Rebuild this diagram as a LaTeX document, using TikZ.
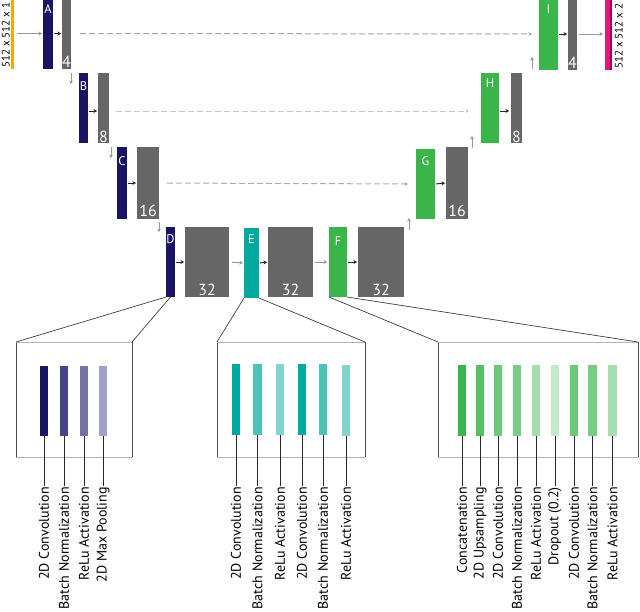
\documentclass[tikz,border=0pt]{standalone}
\usepackage{fontspec}
\setmainfont{PT Sans}
\usetikzlibrary{arrows.meta}
\definecolor{navy}{HTML}{1B1464}
\definecolor{navyb}{HTML}{46438A}
\definecolor{navyc}{HTML}{7672A8}
\definecolor{navyd}{HTML}{A3A0C8}
\definecolor{teal}{HTML}{00A99D}
\definecolor{tealb}{HTML}{4DC3B8}
\definecolor{tealc}{HTML}{80D4CD}
\definecolor{grn}{HTML}{39B54A}
\definecolor{grnb}{HTML}{57C064}
\definecolor{grnc}{HTML}{6DC878}
\definecolor{grnd}{HTML}{78CC84}
\definecolor{grne}{HTML}{A6DDAE}
\definecolor{grnf}{HTML}{C4E9C9}
\definecolor{blkgrey}{HTML}{666666}
\definecolor{orng}{HTML}{F7A800}
\definecolor{mag}{HTML}{E0177A}
\definecolor{magd}{HTML}{A0005A}
\newcommand\blk[6]{%
  \pgfmathsetmacro\bw{#4-#2}\pgfmathsetmacro\bh{#5-#3}%
  \node[bar,fill=#6,minimum width=\bw pt,minimum height=\bh pt] (#1) at ({(#2+#4)/2},{(#3+#5)/2}) {};}
\tikzset{
  bar/.style={rectangle,inner sep=0pt,outer sep=0pt,draw=none},
  lt/.style={text=white,font=\fontsize{12.5}{12.5}\selectfont,inner sep=0pt},
  num/.style={text=white,font=\fontsize{16}{16}\selectfont,inner sep=0pt,anchor=base},
  blkarrow/.style={draw=black!85,line width=1pt,-{Stealth[length=3.5pt,width=4pt]}},
  garrow/.style={draw=black!40,line width=1pt,-{Stealth[length=3.5pt,width=4pt]}},
  skip/.style={draw=black!30,line width=1pt,dash pattern=on 6pt off 3pt,-{Stealth[length=3.5pt,width=4pt]}},
  zoomline/.style={draw=black!75,line width=0.7pt},
  panel/.style={draw=black!70,line width=0.7pt},
  paneltop/.style={draw=black!30,line width=0.7pt},
  lbl/.style={rotate=90,anchor=east,font=\fontsize{14}{14}\selectfont,inner sep=1pt},
  lead/.style={draw=black!85,line width=0.7pt},
  dim/.style={rotate=90,anchor=base west,font=\fontsize{11}{11}\selectfont,inner sep=0pt}
}
\begin{document}
\begin{tikzpicture}[x=1pt,y=-1pt]
\useasboundingbox[fill=white] (0,0) rectangle (640,611);
% ---------- top: U-Net ----------
\blk{inp}{11}{-2}{14}{69}{orng}
\node[dim] (inlbl) at (9.5,68) {512 x 512 x 1};
\blk{A}{43}{-2}{53}{69}{navy}
\blk{gA}{62}{-2}{71}{69}{blkgrey}
\blk{B}{79}{73}{88}{143}{navy}
\blk{gB}{98}{73}{109}{143}{blkgrey}
\blk{C}{117}{147}{127}{219}{navy}
\blk{gC}{137}{147}{159}{219}{blkgrey}
\blk{D}{166}{227}{175}{297}{navy}
\blk{gD}{185}{227}{229}{297}{blkgrey}
\blk{E}{244}{228}{259}{298}{teal}
\blk{gE}{268}{227}{313}{297}{blkgrey}
\blk{F}{329}{227}{347}{297}{grn}
\blk{gF}{358}{227}{404}{297}{blkgrey}
\blk{G}{416}{149}{435}{219}{grn}
\blk{gG}{446}{147}{468}{219}{blkgrey}
\blk{H}{481}{73}{499}{143}{grn}
\blk{gH}{511}{73}{522}{143}{blkgrey}
\blk{I}{539}{-2}{558}{70}{grn}
\blk{gI}{568}{-2}{577}{70}{blkgrey}
\blk{out}{605}{-2}{612}{70}{mag}
\blk{outd}{610}{-2}{612}{70}{magd}
\node[dim] (outlbl) at (622.5,69) {512 x 512 x 2};
% letters
\node[lt,anchor=base] at ([yshift=-15pt]A.north) {A};
\node[lt,anchor=base] at ([yshift=-17pt]B.north) {B};
\node[lt,anchor=base] at ([yshift=-18pt]C.north) {C};
\node[lt,anchor=base] at ([yshift=-16pt]D.north) {D};
\node[lt,anchor=base] at ([yshift=-15pt]E.north) {E};
\node[lt,anchor=base] at ([yshift=-18pt]F.north) {F};
\node[lt,anchor=base] at ([yshift=-16pt]G.north) {G};
\node[lt,anchor=base] at ([yshift=-14pt]H.north) {H};
\node[lt,anchor=base] at ([yshift=-15pt]I.north) {I};
% numbers
\node[num] at ([yshift=2pt]gA.south) {4};
\node[num] at ([yshift=1pt]gB.south) {8};
\node[num] at ([yshift=3pt]gC.south) {16};
\node[num] at ([yshift=2pt]gD.south) {32};
\node[num] at ([yshift=2pt]gE.south) {32};
\node[num] at ([yshift=2pt]gF.south) {32};
\node[num] at ([yshift=3pt]gG.south) {16};
\node[num] at ([yshift=1pt]gH.south) {8};
\node[num] at ([yshift=2pt]gI.south) {4};
% arrows
\draw[garrow,shorten <=3pt,shorten >=1pt] (inp.east) -- (A.west);
\draw[blkarrow,shorten <=1pt,shorten >=1pt] (A.east) -- (gA.west);
\draw[blkarrow,shorten <=1pt,shorten >=1pt] ([yshift=-3pt]B.east) -- ([yshift=-3pt]gB.west);
\draw[blkarrow,shorten <=1pt,shorten >=1pt] (C.east) -- (gC.west);
\draw[blkarrow,shorten <=1pt,shorten >=1pt] (D.east) -- (gD.west);
\draw[garrow,shorten <=3pt,shorten >=1pt] (gD.east) -- (E.west);
\draw[blkarrow,shorten <=1pt,shorten >=1pt] (E.east) -- (gE.west);
\draw[garrow,shorten <=2pt,shorten >=2pt] (gE.east) -- (F.west);
\draw[blkarrow,shorten <=1pt,shorten >=1pt] (F.east) -- (gF.west);
\draw[blkarrow,shorten <=1pt,shorten >=1pt] (G.east) -- (gG.west);
\draw[blkarrow,shorten <=1pt,shorten >=2pt] ([yshift=-3pt]H.east) -- ([yshift=-3pt]gH.west);
\draw[blkarrow,shorten <=1pt,shorten >=1pt] (I.east) -- (gI.west);
\draw[garrow,shorten <=2pt,shorten >=2pt] (gI.east) -- (out.west);
% down / up arrows
\draw[garrow] ([xshift=-8pt]B.north west) -- ([xshift=-8pt,yshift=-11pt]B.north west);
\draw[garrow] ([xshift=-6pt]C.north west) -- ([xshift=-6pt,yshift=-11pt]C.north west);
\draw[garrow] ([xshift=-7pt,yshift=5pt]D.north west) -- ([xshift=-7pt,yshift=-5pt]D.north west);
\draw[garrow] ([xshift=5pt,yshift=-3pt]gF.north east) -- ([xshift=5pt,yshift=9pt]gF.north east);
\draw[garrow] ([xshift=4pt,yshift=-1pt]gG.north east) -- ([xshift=4pt,yshift=11pt]gG.north east);
\draw[garrow] ([xshift=-7pt,yshift=-71pt]I.north west) -- ([xshift=-7pt,yshift=-59pt]I.north west);
% skip connections
\draw[skip,draw=black!35,shorten <=9pt,shorten >=7pt] (gA.east) -- (I.west);
\draw[skip,draw=black!22,shorten <=7pt,shorten >=12pt] ([yshift=-3pt]gB.east) -- ([yshift=-3pt]H.west);
\draw[skip,draw=black!32,shorten <=8pt,shorten >=8pt] (gC.east) -- (G.west);
% ---------- panel 1 ----------
\coordinate (p1tl) at (16,342); \coordinate (p1tr) at (132,342);
\coordinate (p1bl) at (16,457); \coordinate (p1br) at (132,457);
\draw[panel] (p1tl) -- (p1bl); \draw[panel] (p1tr) -- (p1br);
\draw[paneltop] (p1tl) -- (p1tr); \draw[paneltop] (p1bl) -- (p1br);
\draw[zoomline] (D.south west) -- (p1tl);
\draw[zoomline] (D.south) -- (p1tr);
\blk{a1}{40}{366}{48}{436}{navy}
\blk{a2}{60}{366}{68}{436}{navyb}
\blk{a3}{80}{366}{88}{436}{navyc}
\blk{a4}{99}{366}{107}{436}{navyd}
\node[lbl] (la1) at (44,486) {2D Convolution};
\node[lbl] (la2) at (64,486) {Batch Normalization};
\node[lbl] (la3) at (84,486) {ReLu Activation};
\node[lbl] (la4) at (103,486) {2D Max Pooling};
\foreach \i in {1,...,4}{\draw[lead] (a\i.south) -- (la\i.east);}
% ---------- panel 2 ----------
\coordinate (p2tl) at (217,342); \coordinate (p2tr) at (365,342);
\coordinate (p2bl) at (217,457); \coordinate (p2br) at (365,457);
\draw[panel] (p2tl) -- (p2bl); \draw[panel] (p2tr) -- (p2br);
\draw[paneltop] (p2tl) -- (p2tr); \draw[paneltop] (p2bl) -- (p2br);
\draw[zoomline] (E.south west) -- (p2tl);
\draw[zoomline] (E.south east) -- (p2tr);
\blk{b1}{232}{364}{240}{435}{teal}
\blk{b2}{253}{364}{262}{435}{tealb}
\blk{b3}{276}{364}{284}{435}{tealc}
\blk{b4}{298}{364}{306}{435}{teal}
\blk{b5}{319}{364}{327}{435}{tealb}
\blk{b6}{342}{365}{350}{436}{tealc}
\node[lbl] (lb1) at (236,486) {2D Convolution};
\node[lbl] (lb2) at (257.5,486) {Batch Normalization};
\node[lbl] (lb3) at (280,486) {ReLu Activation};
\node[lbl] (lb4) at (302,486) {2D Convolution};
\node[lbl] (lb5) at (323,486) {Batch Normalization};
\node[lbl] (lb6) at (346,486) {ReLu Activation};
\foreach \i in {1,...,6}{\draw[lead] (b\i.south) -- (lb\i.east);}
% ---------- panel 3 ----------
\coordinate (p3tl) at (438,342); \coordinate (p3tr) at (638,342);
\coordinate (p3bl) at (438,457); \coordinate (p3br) at (638,457);
\draw[panel] (p3tl) -- (p3bl); \draw[panel] (p3tr) -- (p3br);
\draw[paneltop] (p3tl) -- (p3tr); \draw[paneltop] (p3bl) -- (p3br);
\draw[zoomline] (F.south west) -- (p3tl);
\draw[zoomline] (F.south east) -- (p3tr);
\blk{c1}{458}{365}{466}{436}{grn}
\blk{c2}{476}{365}{484}{436}{grnb}
\blk{c3}{494}{365}{502}{436}{grnc}
\blk{c4}{513}{365}{521}{436}{grnd}
\blk{c5}{532}{365}{540}{436}{grne}
\blk{c6}{551}{365}{559}{436}{grnf}
\blk{c7}{570}{365}{578}{436}{grnc}
\blk{c8}{588}{365}{597}{436}{grnd}
\blk{c9}{608}{365}{617}{436}{grne}
\node[lbl] (lc1) at (462,486) {Concatenation};
\node[lbl] (lc2) at (480,486) {2D Upsampling};
\node[lbl] (lc3) at (498,486) {2D Convolution};
\node[lbl] (lc4) at (517,486) {Batch Normalization};
\node[lbl] (lc5) at (536,486) {ReLu Activation};
\node[lbl] (lc6) at (555,486) {Dropout (0.2)};
\node[lbl] (lc7) at (574,486) {2D Convolution};
\node[lbl] (lc8) at (592.5,486) {Batch Normalization};
\node[lbl] (lc9) at (612.5,486) {ReLu Activation};
\foreach \i in {1,...,9}{\draw[lead] (c\i.south) -- (lc\i.east);}
\end{tikzpicture}
\end{document}
